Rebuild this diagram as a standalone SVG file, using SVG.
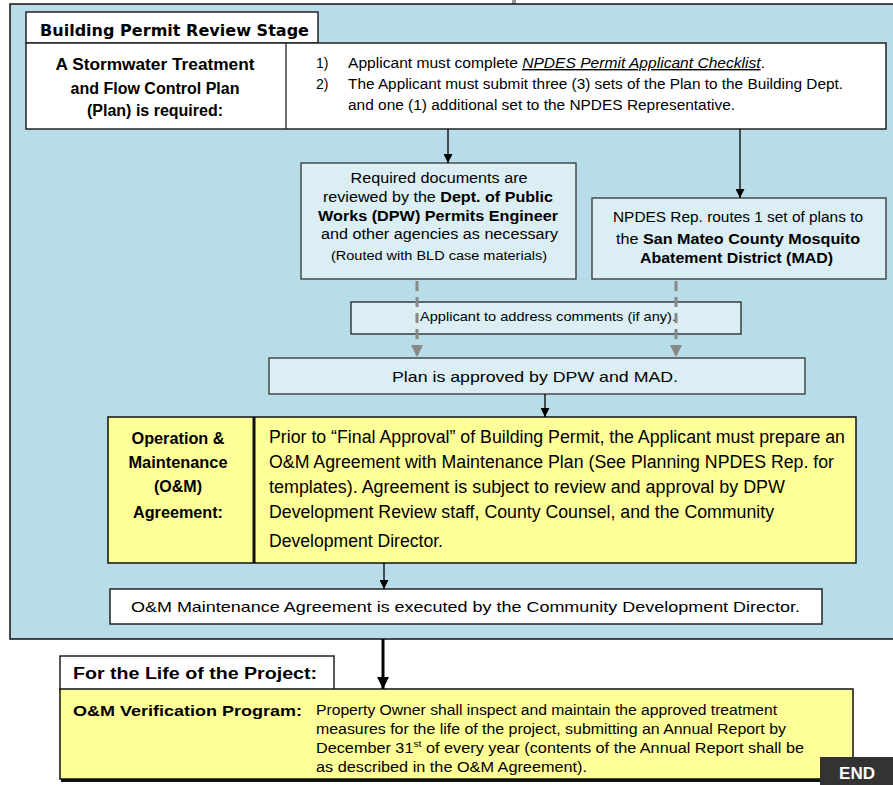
<svg xmlns="http://www.w3.org/2000/svg" width="893" height="785" viewBox="0 0 893 785">
<defs>
<style>
.t{font-family:"Liberation Sans",Arial,sans-serif;fill:#000}
.b{font-weight:bold}
.box{fill:#daeef4;stroke:#333;stroke-width:1.3}
.wbox{fill:#fff;stroke:#222;stroke-width:1.5}
.ybox{fill:#ffff99;stroke:#111;stroke-width:1.5}
.conn{stroke:#000;stroke-width:1.3;fill:none}
.dash{stroke:#888;stroke-width:3;stroke-dasharray:10 6;fill:none}
</style>
<marker id="ah" viewBox="0 0 10 10" refX="10" refY="5" markerWidth="9" markerHeight="9" markerUnits="userSpaceOnUse" orient="auto"><path d="M0,0 L10,5 L0,10 z" fill="#000"/></marker>
<marker id="ahg" viewBox="0 0 10 10" refX="10" refY="5" markerWidth="4" markerHeight="4" markerUnits="strokeWidth" orient="auto"><path d="M0,0 L10,5 L0,10 z" fill="#888"/></marker>
<marker id="ahb" viewBox="0 0 10 10" refX="10" refY="5" markerWidth="12" markerHeight="12" markerUnits="userSpaceOnUse" orient="auto"><path d="M0,0 L10,5 L0,10 z" fill="#000"/></marker>
</defs>
<rect x="0" y="0" width="893" height="785" fill="#fff"/>
<rect x="512" y="0" width="4" height="4" fill="#999"/>
<g id="stage-bg"><rect x="10" y="4" width="900" height="635" fill="#b8dde8" stroke="#111" stroke-width="1.5"/></g>

<g id="stage-title">
<rect class="wbox" x="26" y="12" width="292" height="31"/>
<text x="40" y="36" font-family="DejaVu Sans,Verdana,sans-serif" font-weight="bold" font-size="15" textLength="269" lengthAdjust="spacingAndGlyphs">Building Permit Review Stage</text>
</g>

<g id="plan-required">
<rect class="wbox" x="26" y="43" width="860" height="86"/>
<line x1="286" y1="43" x2="286" y2="129" stroke="#222" stroke-width="1.3"/>
<text class="t b" font-size="16" text-anchor="middle"><tspan x="155" y="70" textLength="199" lengthAdjust="spacingAndGlyphs">A Stormwater Treatment</tspan><tspan x="155" y="94">and Flow Control Plan</tspan><tspan x="155" y="116">(Plan) is required:</tspan></text>
<text class="t" font-size="14" x="316" y="68">1)</text>
<text class="t" font-size="14" x="348" y="68" textLength="417" lengthAdjust="spacingAndGlyphs">Applicant must complete <tspan font-style="italic" text-decoration="underline">NPDES Permit Applicant Checklist</tspan>.</text>
<text class="t" font-size="14" x="316" y="89">2)</text>
<text class="t" font-size="14" x="348" y="89" textLength="495" lengthAdjust="spacingAndGlyphs">The Applicant must submit three (3) sets of the Plan to the Building Dept.</text>
<text class="t" font-size="14" x="348" y="110" textLength="387" lengthAdjust="spacingAndGlyphs">and one (1) additional set to the NPDES Representative.</text>
</g>

<g id="dpw-review">
<rect class="box" x="301" y="163" width="275" height="116"/>
<text class="t" font-size="14" text-anchor="middle"><tspan x="439" y="183" textLength="177" lengthAdjust="spacingAndGlyphs">Required documents are</tspan></text>
<text class="t" font-size="14" x="323" y="202" textLength="230" lengthAdjust="spacingAndGlyphs">reviewed by the <tspan class="b">Dept. of Public</tspan></text>
<text class="t b" font-size="14" x="318" y="221" textLength="240" lengthAdjust="spacingAndGlyphs">Works (DPW) Permits Engineer</text>
<text class="t" font-size="14" x="321" y="239" textLength="237" lengthAdjust="spacingAndGlyphs">and other agencies as necessary</text>
<text class="t" font-size="12" x="331" y="260" textLength="216" lengthAdjust="spacingAndGlyphs">(Routed with BLD case materials)</text>
</g>

<g id="mad-routing">
<rect class="box" x="592" y="198" width="294" height="81"/>
<text class="t" font-size="14" x="613" y="222" textLength="250" lengthAdjust="spacingAndGlyphs">NPDES Rep. routes 1 set of plans to</text>
<text class="t" font-size="14" x="616" y="244" textLength="244" lengthAdjust="spacingAndGlyphs">the <tspan class="b">San Mateo County Mosquito</tspan></text>
<text class="t b" font-size="14" x="640" y="263" textLength="193" lengthAdjust="spacingAndGlyphs">Abatement District (MAD)</text>
</g>

<g id="address-comments">
<rect fill="#daeef4" stroke="#222" stroke-width="1.3" x="351" y="302" width="390" height="32"/>
<text class="t" font-size="13" x="420" y="321" textLength="256" lengthAdjust="spacingAndGlyphs">Applicant to address comments (if any).</text>
</g>

<g id="plan-approved">
<rect class="box" x="269" y="358" width="536" height="36"/>
<text class="t" font-size="15" x="392" y="382" textLength="286" lengthAdjust="spacingAndGlyphs">Plan is approved by DPW and MAD.</text>
</g>

<g id="om-agreement">
<rect class="ybox" x="108" y="417" width="748" height="146"/>
<line x1="254" y1="417" x2="254" y2="563" stroke="#111" stroke-width="3"/>
<text class="t b" font-size="16" text-anchor="middle"><tspan x="178" y="444" textLength="93" lengthAdjust="spacingAndGlyphs">Operation &amp;</tspan><tspan x="178" y="468" textLength="99" lengthAdjust="spacingAndGlyphs">Maintenance</tspan><tspan x="178" y="492">(O&amp;M)</tspan><tspan x="178" y="518" textLength="90" lengthAdjust="spacingAndGlyphs">Agreement:</tspan></text>
<text class="t" font-size="18" x="269" y="443" textLength="576" lengthAdjust="spacingAndGlyphs">Prior to “Final Approval” of Building Permit, the Applicant must prepare an</text>
<text class="t" font-size="18" x="269" y="468" textLength="565" lengthAdjust="spacingAndGlyphs">O&amp;M Agreement with Maintenance Plan (See Planning NPDES Rep. for</text>
<text class="t" font-size="18" x="269" y="493" textLength="516" lengthAdjust="spacingAndGlyphs">templates).  Agreement is subject to review and approval by DPW</text>
<text class="t" font-size="18" x="269" y="518" textLength="505" lengthAdjust="spacingAndGlyphs">Development Review staff, County Counsel, and the Community</text>
<text class="t" font-size="18" x="269" y="547" textLength="174" lengthAdjust="spacingAndGlyphs">Development Director.</text>
</g>

<g id="om-executed">
<rect class="wbox" x="110" y="589" width="712" height="35"/>
<text class="t" font-size="15" x="131" y="612" textLength="669" lengthAdjust="spacingAndGlyphs">O&amp;M Maintenance Agreement is executed by the Community Development Director.</text>
</g>

<g id="life-title">
<rect class="wbox" x="60" y="656" width="274" height="34"/>
<text class="t b" font-size="16" x="73" y="679" textLength="244" lengthAdjust="spacingAndGlyphs">For the Life of the Project:</text>
</g>

<g id="verification">
<rect x="61" y="778" width="792" height="4" fill="#111"/>
<rect class="ybox" x="60" y="689" width="793" height="90"/>
<text class="t b" font-size="15" x="73" y="716" textLength="229" lengthAdjust="spacingAndGlyphs">O&amp;M Verification Program:</text>
<text class="t" font-size="14" x="316" y="715" textLength="461" lengthAdjust="spacingAndGlyphs">Property Owner shall inspect and maintain the approved treatment</text>
<text class="t" font-size="14" x="316" y="734" textLength="470" lengthAdjust="spacingAndGlyphs">measures for the life of the project, submitting an Annual Report by</text>
<text class="t" font-size="14" x="316" y="753" textLength="488" lengthAdjust="spacingAndGlyphs">December 31<tspan font-size="9" dy="-6">st</tspan><tspan dy="6"> of every year (contents of the Annual Report shall be</tspan></text>
<text class="t" font-size="14" x="316" y="772" textLength="271" lengthAdjust="spacingAndGlyphs">as described in the O&amp;M Agreement).</text>
</g>

<g id="end">
<rect x="820" y="757" width="75" height="30" fill="#333"/>
<text x="857" y="779" font-family="Liberation Sans,Arial,sans-serif" font-weight="bold" font-size="17" fill="#fff" text-anchor="middle">END</text>
</g>

<g id="connectors">
<line class="conn" x1="448" y1="129" x2="448" y2="163" marker-end="url(#ah)"/>
<line class="conn" x1="740" y1="129" x2="740" y2="198" marker-end="url(#ah)"/>
<line class="dash" x1="417" y1="281" x2="417" y2="357" marker-end="url(#ahg)"/>
<line class="dash" x1="676" y1="281" x2="676" y2="357" marker-end="url(#ahg)"/>
<line class="conn" x1="545" y1="394" x2="545" y2="417" marker-end="url(#ah)"/>
<line class="conn" x1="384" y1="563" x2="384" y2="589" marker-end="url(#ah)"/>
<line stroke="#000" stroke-width="3" x1="383" y1="639" x2="383" y2="689" marker-end="url(#ahb)"/>
</g>
</svg>
